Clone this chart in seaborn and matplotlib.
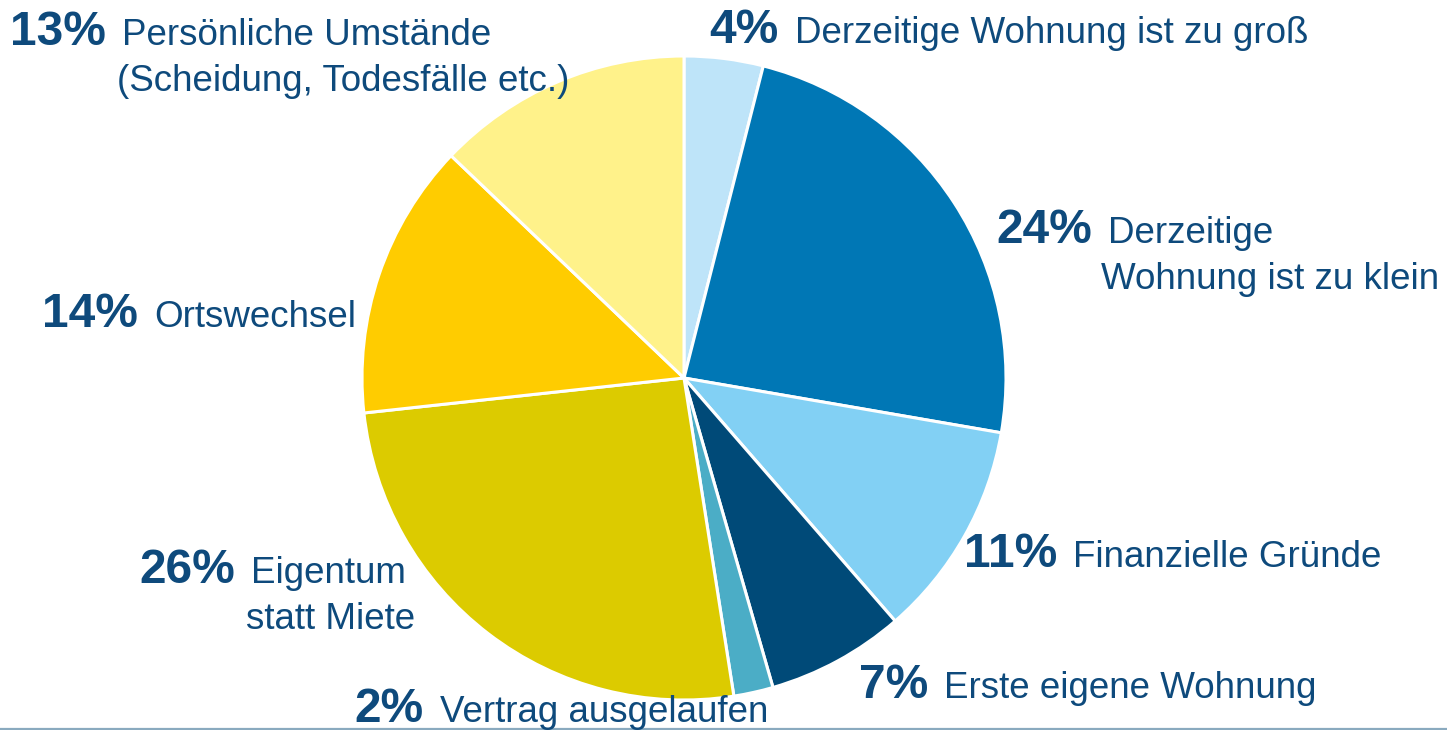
import matplotlib
matplotlib.use("Agg")
import matplotlib.pyplot as plt
import seaborn as sns

sns.set_theme(style="white")
plt.rcParams['font.family'] = ['Liberation Sans', 'DejaVu Sans']

# data, clockwise from 12 o'clock
shares = [4, 24, 11, 7, 2, 26, 14, 13]
pct_labels = ['4%', '24%', '11%', '7%', '2%', '26%', '14%', '13%']
reasons = ['Derzeitige Wohnung ist zu groß',
           'Derzeitige\nWohnung ist zu klein',
           'Finanzielle Gründe',
           'Erste eigene Wohnung',
           'Vertrag ausgelaufen',
           'Eigentum\nstatt Miete',
           'Ortswechsel',
           'Persönliche Umstände\n(Scheidung, Todesfälle etc.)']
colors = ['#BEE4F9', '#0077B5', '#82D0F4', '#004A78',
          '#4BADC6', '#DCCB00', '#FFCC00', '#FFF28A']

text_col = '#0E4A7C'

# label anchors in pixels (x = end of the bold percent, y = baseline from top)
anchors = [(779, 43), (1092, 243), (1057, 567), (928, 698),
           (424, 722), (235, 583), (138, 327), (106, 45)]
line_indent = [0, -7, 0, 0, 0, -5, 0, -5]

W, H = 1447, 730
fig = plt.figure(figsize=(W / 100, H / 100), dpi=100)
ax = fig.add_axes([0, 0, 1, 1])

ax.pie(shares, colors=colors, startangle=90, counterclock=False,
       center=(684, H - 378), radius=322, frame=True,
       wedgeprops=dict(edgecolor='white', linewidth=2.2))
ax.set_xlim(0, W)
ax.set_ylim(0, H)
ax.set_aspect('equal')
ax.axis('off')

for (x, y), pct, reason, ind in zip(anchors, pct_labels, reasons, line_indent):
    ax.text(x, H - y, pct, ha='right', va='baseline', fontsize=34.5,
            fontweight='bold', color=text_col)
    lines = reason.split('\n')
    for i, ln in enumerate(lines):
        dx = 16 if i == 0 else 16 + ind
        ax.text(x + dx, H - y - i * 46, ln, ha='left', va='baseline',
                fontsize=26.5, color=text_col)

# thin rule at the bottom
ax.axhline(H - 729, color='#8AAABF', linewidth=1.6)

fig.savefig('out.png', dpi=100)
